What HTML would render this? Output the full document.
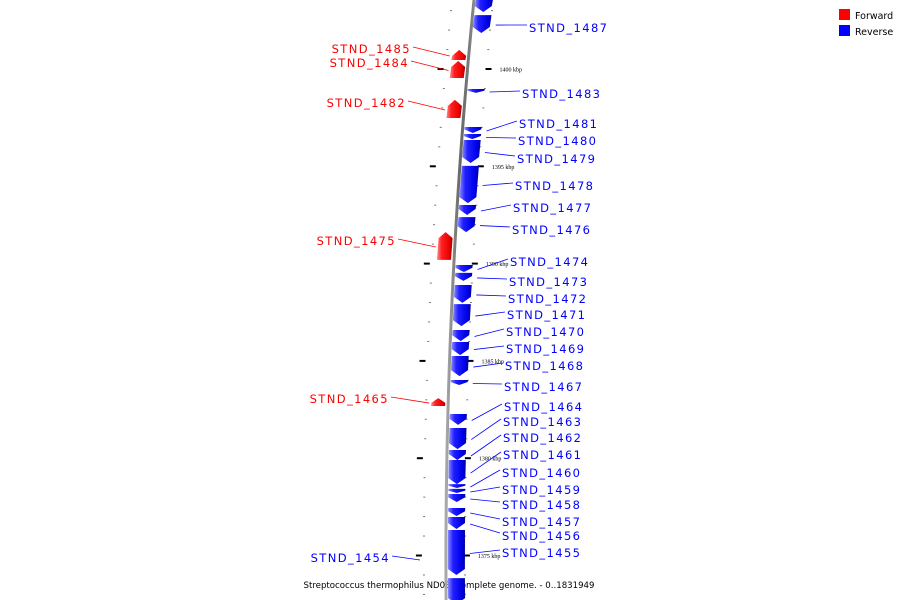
<!DOCTYPE html>
<html><head><meta charset="utf-8"><style>
html,body{margin:0;padding:0;background:#fff;}
svg{display:block;font-family:"DejaVu Sans","Liberation Sans",sans-serif;}
</style></head><body>
<svg id="chart" width="900" height="600" viewBox="0 0 900 600" xmlns="http://www.w3.org/2000/svg">
<defs>
<linearGradient id="gb" x1="0" x2="1" y1="0" y2="0"><stop offset="0" stop-color="#8a8aff"/><stop offset="0.3" stop-color="#2020ff"/><stop offset="0.8" stop-color="#0000e8"/><stop offset="1" stop-color="#00009a"/></linearGradient>
<linearGradient id="gr" x1="0" x2="1" y1="0" y2="0"><stop offset="0" stop-color="#ff8a8a"/><stop offset="0.3" stop-color="#ff2020"/><stop offset="0.8" stop-color="#e80000"/><stop offset="1" stop-color="#9a0000"/></linearGradient>
<linearGradient id="gbb" x1="0" x2="1"><stop offset="0" stop-color="#aaa"/><stop offset="0.5" stop-color="#666"/><stop offset="1" stop-color="#888"/></linearGradient>
</defs>
<g>
<rect x="839" y="9" width="11" height="11" fill="#f00"/>
<text x="855" y="19" font-size="9.5" fill="#000">Forward</text>
<rect x="839" y="25" width="11" height="11" fill="#00f"/>
<text x="855" y="35" font-size="9.5" fill="#000">Reverse</text>
</g>
<text x="449" y="588" font-size="8.6" text-anchor="middle" fill="#000">Streptococcus thermophilus ND03, complete genome. - 0..1831949</text>
</svg>
<script>
// genomic data (kbp)
const geneNames = ["","STND_1487","STND_1485","STND_1484","STND_1483","STND_1482","STND_1481","STND_1480","STND_1479","STND_1478","STND_1477","STND_1476","STND_1475","STND_1474","STND_1473","STND_1472","STND_1471","STND_1470","STND_1469","STND_1468","STND_1467","STND_1465","STND_1464","STND_1463","STND_1462","STND_1461","STND_1460","STND_1459","STND_1458","STND_1457","STND_1456","STND_1455","STND_1454"];
const geneStrand = ["-","-","+","+","-","+","-","-","-","-","-","-","+","-","-","-","-","-","-","-","-","+","-","-","-","-","-","-","-","-","-","-","-"];
const geneStart = [1403.6,1402.77,1400.98,1400.41,1398.97,1398.41,1397.02,1396.66,1396.35,1395.02,1393.01,1392.39,1391.62,1389.93,1389.52,1388.90,1387.92,1386.59,1385.97,1385.25,1384.02,1383.09,1382.27,1381.55,1380.42,1379.91,1378.67,1378.42,1378.16,1377.44,1376.98,1376.31,1373.84];
const geneEnd = [1402.93,1401.85,1400.46,1399.54,1398.77,1397.48,1396.71,1396.40,1395.17,1393.11,1392.50,1391.62,1390.19,1389.57,1389.11,1387.98,1386.79,1386.02,1385.30,1384.22,1383.76,1382.68,1381.71,1380.47,1379.91,1378.67,1378.47,1378.21,1377.75,1377.03,1376.36,1374.00,1372.5];
const tickLabels = ["1400 kbp","1395 kbp","1390 kbp","1385 kbp","1380 kbp","1375 kbp"];
const tickValues = [1400,1395,1390,1385,1380,1375];
// label layout (pixel placement of text only)
const labelY = [null,28,49,63,94,103,124,141,159,186,208,230,241,262,282,299,315,332,349,366,387,399,407,422,438,455,473,490,505,522,536,553,558];
const labelX = [null,529,411,409,522,406,519,518,517,515,513,512,396,510,509,508,507,506,506,505,504,389,504,503,503,503,502,502,502,502,502,502,390];

const NS="http://www.w3.org/2000/svg";
const svg=document.getElementById('chart');
function yScale(k){return 69+(1400-k)*19.46;}
function bx(y){return 474-0.1*y+8.9e-5*y*y;}
function mk(t,a){const e=document.createElementNS(NS,t);for(const k in a)e.setAttribute(k,a[k]);return e;}

let d="";for(let y=-5;y<=605;y+=5){d+=(y===-5?"M":"L")+bx(y).toFixed(2)+" "+y+" ";}
const bb=mk('path',{d:d,fill:'none',stroke:'url(#gbb)','stroke-width':3});


svg.appendChild(bb);

for(let k=1404;k>=1372;k--){
  const y=yScale(k);if(y<2||y>598)continue;
  if(tickValues.indexOf(k)>=0)continue;
  const l=mk('rect',{x:bx(y)-23,y:y-0.5,width:2,height:1,fill:'#777'});
  
  
  svg.appendChild(l);
  const r=mk('rect',{x:bx(y)+18,y:y-0.5,width:2,height:1,fill:'#777'});
  
  
  svg.appendChild(r);
}
tickValues.forEach((k,i)=>{
  const y=yScale(k);
  const l=mk('rect',{x:bx(y)-30,y:y-1,width:6,height:2,fill:'#000'});
  
  
  svg.appendChild(l);
  const r=mk('rect',{x:bx(y)+18,y:y-1,width:6,height:2,fill:'#000'});
  
  
  svg.appendChild(r);
  const t=mk('text',{x:bx(y)+32,y:y+2.5,'font-size':6,'font-family':'Liberation Serif, serif',fill:'#000'});
  t.textContent=tickLabels[i];
  
  
  svg.appendChild(t);
});

geneNames.forEach((n,i)=>{
  const y1=yScale(geneStart[i]),y2=yScale(geneEnd[i]);
  const fwd=geneStrand[i]==="+";
  const len=y2-y1,h=Math.min(6,len*0.6),w=fwd?14:17;
  let pts;
  if(fwd){
    const xr=bx(y2)-3, xrt=bx(y1)-3;
    pts=[[xrt-w,y1+h],[xrt-w/2,y1],[xrt,y1+h],[xr,y2],[xr-w,y2]];
  }else{
    const xl=bx(y1)+2, xlb=bx(y2)+2;
    pts=[[xl,y1],[xl+w,y1],[xlb+w,y2-h],[xlb+w/2,y2],[xlb,y2-h]];
  }
  const p=mk('polygon',{points:pts.map(q=>q[0].toFixed(1)+','+q[1].toFixed(1)).join(' '),fill:fwd?'url(#gr)':'url(#gb)'});
  
  
  svg.appendChild(p);
  if(!n)return;
  const ly=labelY[i],lx=labelX[i],ym=(y1+y2)/2;
  const left=fwd||n==="STND_1454";
  const col=fwd?'#f00':'#00f';
  let line;
  if(left){
    line=mk('line',{x1:lx+2,y1:ly-2,x2:bx(ym)-(fwd?19:26),y2:ym+1,stroke:col,'stroke-width':0.8});
  }else{
    line=mk('line',{x1:bx(ym)+24,y1:ym+1,x2:lx-2,y2:ly-3,stroke:col,'stroke-width':0.8});
  }
  if(n==="STND_1454"){line.setAttribute('x2',420);line.setAttribute('y2',560);}
  
  
  svg.appendChild(line);
  const t=mk('text',{x:lx,y:ly+4,'font-size':11.5,'letter-spacing':1.4,fill:col,'text-anchor':left?'end':'start'});
  t.textContent=n;
  
  
  svg.appendChild(t);
});
</script>
</body></html>
